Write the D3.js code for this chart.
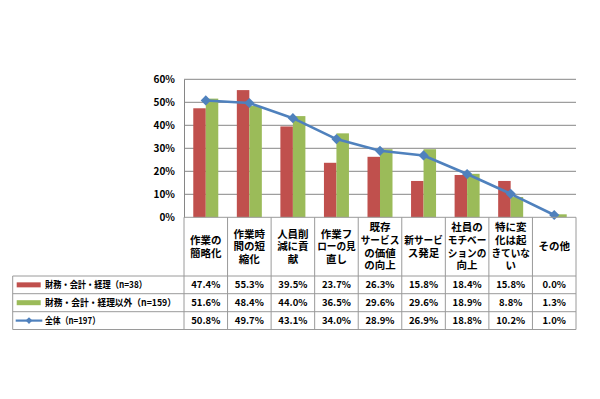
<!DOCTYPE html>
<html><head><meta charset="utf-8">
<script src="https://cdn.jsdelivr.net/npm/d3@7"></script>
<style>
html,body{margin:0;padding:0;background:#fff;}
svg{display:block;}
text{font-family:"Noto Sans CJK JP","Noto Sans",sans-serif;font-weight:bold;fill:#000;}
</style></head>
<body>
<svg id="chart" width="600" height="399"></svg>
<script>
const categories = [
  ["作業の","簡略化"],
  ["作業時","間の短","縮化"],
  ["人員削","減に貢","献"],
  ["作業フ","ローの見","直し"],
  ["既存","サービス","の価値","の向上"],
  ["新サービ","ス発足"],
  ["社員の","モチベー","ションの","向上"],
  ["特に変","化は起","きていな","い"],
  ["その他"]
];
const seriesNames = ["財務・会計・経理（n=38）","財務・会計・経理以外（n=159）","全体（n=197）"];
const financeValues = [47.4,55.3,39.5,23.7,26.3,15.8,18.4,15.8,0.0];
const otherValues   = [51.6,48.4,44.0,36.5,29.6,29.6,18.9,8.8,1.3];
const totalValues   = [50.8,49.7,43.1,34.0,28.9,26.9,18.8,10.2,1.0];
const yTicks = [0,10,20,30,40,50,60];

const colors = ["#C0504D","#9BBB59","#4F81BD"];
const svg = d3.select("#chart");

const L = 184, R = 576, T = 79.3, B = 217.3;
const tableLeft = 12.7;
const rowY = [B, 276, 293.7, 311.7, 329.5];
const legendWidths = [102, 131, 55];

const idx = categories.map((d,i)=>i);
const x = d3.scaleBand().domain(idx).range([L,R]).padding(0);
const y = d3.scaleLinear().domain([0,60]).range([B,T]);
const bw = x.bandwidth();
const x1 = d3.scaleBand().domain([0,1]).range([bw*0.213, bw*0.787]).padding(0);

// gridlines
const grid = svg.append("g");
grid.selectAll("line").data(yTicks.filter(d=>d>0)).join("line")
  .attr("x1",L).attr("x2",R)
  .attr("y1",d=>y(d)).attr("y2",d=>y(d))
  .attr("stroke","#868686").attr("stroke-width",1);

// y axis
const yAxis = d3.axisLeft(y).tickValues(yTicks).tickFormat(d=>d+"%").tickSize(0).tickPadding(9);
const ya = svg.append("g").attr("transform",`translate(${L},0)`).call(yAxis);
ya.select(".domain").attr("stroke","#868686");
ya.selectAll("text").attr("font-size",10).style("font-family","'Noto Sans CJK JP',sans-serif").style("font-weight","bold");

// bars
const barData = [financeValues, otherValues];
barData.forEach((vals,s)=>{
  svg.append("g").selectAll("rect").data(vals).join("rect")
    .attr("x",(d,i)=>x(i)+x1(s))
    .attr("width",x1.bandwidth())
    .attr("y",d=>y(d))
    .attr("height",d=>B-y(d))
    .attr("fill",colors[s]);
});

// line
const line = d3.line().x((d,i)=>x(i)+bw/2).y(d=>y(d));
svg.append("path").datum(totalValues).attr("d",line)
  .attr("fill","none").attr("stroke",colors[2]).attr("stroke-width",2.6).attr("stroke-linejoin","round");
const diamond = d3.symbol().type(d3.symbolSquare).size(52);
svg.append("g").selectAll("path").data(totalValues).join("path")
  .attr("d",diamond)
  .attr("transform",(d,i)=>`translate(${x(i)+bw/2},${y(d)}) rotate(45)`)
  .attr("fill",colors[2]);

// table
const tcol = "#9a9a9a";
const tbl = svg.append("g");
tbl.append("line").attr("x1",L).attr("x2",R).attr("y1",B).attr("y2",B).attr("stroke",tcol);
rowY.slice(1).forEach(yy=>{
  tbl.append("line").attr("x1",tableLeft).attr("x2",R).attr("y1",yy).attr("y2",yy).attr("stroke",tcol);
});
d3.range(10).forEach(i=>{
  const xx = L + i*bw;
  tbl.append("line").attr("x1",xx).attr("x2",xx).attr("y1",B).attr("y2",rowY[4]).attr("stroke",tcol);
});
tbl.append("line").attr("x1",tableLeft).attr("x2",tableLeft).attr("y1",rowY[1]).attr("y2",rowY[4]).attr("stroke",tcol);

// header labels: one text per cell, one tspan per line, compressed if wider than the cell
const lh = 12.7;
const hc = (B + rowY[1])/2;
const maxW = bw - 5;
categories.forEach((lines,i)=>{
  const t = tbl.append("text").attr("text-anchor","middle").attr("font-size",10.5);
  const y0 = hc - (lines.length-1)*lh/2;
  lines.forEach((ln,k)=>{
    const ts = t.append("tspan").attr("x",x(i)+bw/2).attr("y",y0+k*lh).attr("dy","0.36em").text(ln);
    const w = ts.node().getComputedTextLength();
    if (w > maxW) ts.attr("textLength",maxW).attr("lengthAdjust","spacingAndGlyphs");
  });
});

// data rows
const rows = [financeValues, otherValues, totalValues];
rows.forEach((vals,r)=>{
  const cy = (rowY[r+1]+rowY[r+2])/2;
  tbl.append("g").selectAll("text").data(vals).join("text")
    .attr("x",(d,i)=>x(i)+bw/2).attr("y",cy).attr("dy","0.36em")
    .attr("text-anchor","middle").attr("font-size",9.5)
    .text(d=>d.toFixed(1)+"%");
  if(r<2){
    tbl.append("rect").attr("x",16.7).attr("width",24).attr("y",cy-2.5).attr("height",5).attr("fill",colors[r]);
  } else {
    tbl.append("line").attr("x1",15.7).attr("x2",42.3).attr("y1",cy).attr("y2",cy).attr("stroke",colors[2]).attr("stroke-width",2.2);
    tbl.append("path").attr("d",d3.symbol().type(d3.symbolSquare).size(22)).attr("transform",`translate(29,${cy}) rotate(45)`).attr("fill",colors[2]);
  }
  tbl.append("text").attr("x",45).attr("y",cy).attr("dy","0.36em").attr("font-size",9.4)
    .attr("textLength",legendWidths[r]).attr("lengthAdjust","spacingAndGlyphs")
    .text(seriesNames[r]);
});
</script>
</body></html>
